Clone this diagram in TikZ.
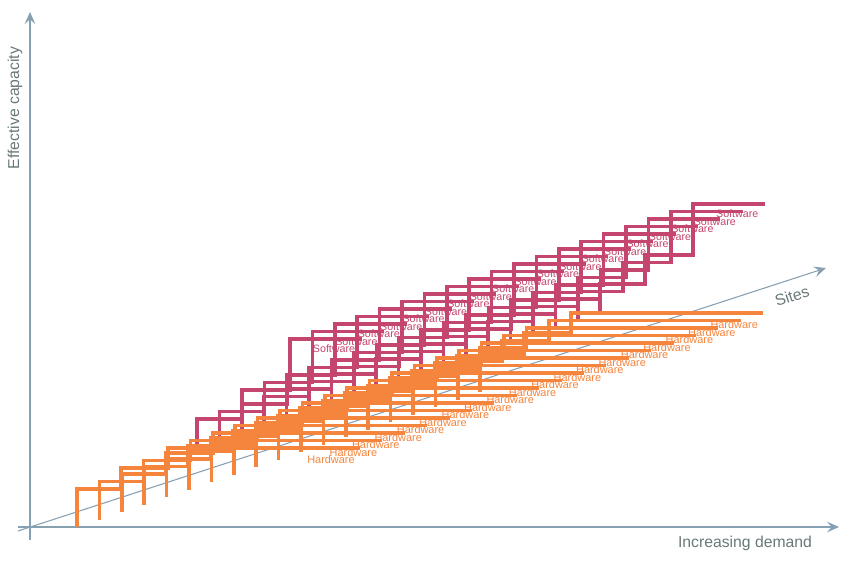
\documentclass[tikz,border=0pt]{standalone}
\usepackage{fontspec}
\setmainfont{Liberation Sans}
\usetikzlibrary{arrows.meta}
\definecolor{hw}{RGB}{245,132,60}
\definecolor{sw}{RGB}{196,70,110}
\definecolor{axisc}{RGB}{135,160,178}
\definecolor{axtext}{RGB}{105,120,120}
\begin{document}
\begin{tikzpicture}[x=0.75pt,y=-0.75pt,
  hwline/.style={draw=hw, line width=2.6pt},
  swline/.style={draw=sw, line width=2.6pt},
  axisline/.style={draw=axisc, line width=0.8pt, -{Stealth[length=9pt,width=8pt,inset=3.5pt]}},
  hwlabel/.style={text=hw, font=\fontsize{8.2}{9}\selectfont, inner sep=0pt},
  swlabel/.style={text=sw, font=\fontsize{8}{9}\selectfont, inner sep=0pt},
  axlabel/.style={text=axtext, font=\fontsize{11.8}{13}\selectfont, inner sep=0pt}]
\useasboundingbox (0,0) rectangle (853,562);
% axes
\coordinate (vstart) at (30,540);
\coordinate (vend) at (30,12);
\coordinate (hstart) at (18,527);
\coordinate (hend) at (839,527);
\coordinate (dstart) at (18,531);
\coordinate (dend) at (826,268);
\draw[axisline] (vstart) -- (vend);
\draw[axisline] (hstart) -- (hend);
\draw[axisline] (dstart) -- (dend);
\node[axlabel, rotate=90] (ylab) at (15,108) {Effective capacity};
\node[axlabel] (xlab) at (745,543) {Increasing demand};
\node[axlabel, rotate=18] (zlab) at (792,296) {Sites};
% software staircases
\foreach \k in {0,...,18}{
  \pgfmathsetmacro\bx{77+22.4*\k}
  \pgfmathsetmacro\by{527-7.5*\k}
  \draw[swline] (\bx+120,\by-79) -- ++(0,-29) -- ++(45,0) -- ++(0,-29) -- ++(48,0) -- ++(0,-51) -- ++(72,0);
}
% hardware staircases
\foreach \k in {0,...,18}{
  \pgfmathsetmacro\bx{77+22.4*\k}
  \pgfmathsetmacro\by{527-7.5*\k}
  \draw[hwline] (\bx,\by) -- ++(0,-38) -- ++(44,0) -- ++(0,-21) -- ++(47,0) -- ++(0,-20) -- ++(192,0);
}
% labels
\foreach \k in {0,...,18}{
  \pgfmathsetmacro\bx{77+22.4*\k}
  \pgfmathsetmacro\by{527-7.5*\k}
  \node[swlabel] (sl\k) at (\bx+257,\by-178) {Software};
  \node[hwlabel] (hl\k) at (\bx+254,\by-67) {Hardware};
}
\end{tikzpicture}
\end{document}
